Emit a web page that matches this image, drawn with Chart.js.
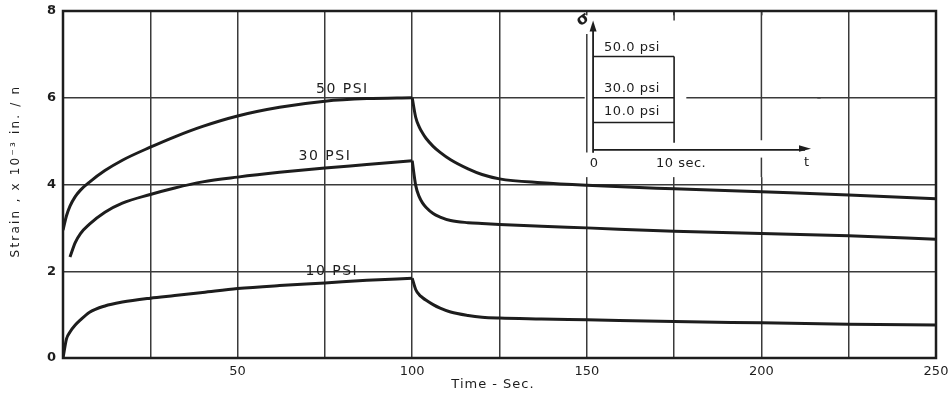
<!DOCTYPE html>
<html>
<head>
<meta charset="utf-8">
<script src="https://cdn.jsdelivr.net/npm/chart.js@4.4.1/dist/chart.umd.min.js"></script>
<style>
  html, body { margin: 0; padding: 0; background: #fff; }
  #wrap { width: 949px; height: 399px; position: relative; }
</style>
</head>
<body>
<div id="wrap"><canvas id="strainChart"></canvas></div>
<script>
// creep curves: loading up to 100 s, recovery afterwards
const loadTime = [0, 1, 2, 3.5, 5, 7.5, 12, 17, 25, 32, 40, 50, 62, 75, 87, 100];
const psi50Load = [2.95, 3.28, 3.5, 3.72, 3.87, 4.05, 4.32, 4.56, 4.86, 5.1, 5.34, 5.58, 5.78, 5.92, 5.98, 6.0];
const psi30Load = [null, null, 2.33, 2.66, 2.87, 3.08, 3.36, 3.57, 3.77, 3.92, 4.06, 4.17, 4.28, 4.38, 4.46, 4.55];
const psi10Load = [0, 0.44, 0.6, 0.76, 0.88, 1.05, 1.2, 1.29, 1.38, 1.44, 1.51, 1.6, 1.67, 1.73, 1.79, 1.84];

const unloadTime = [100, 101, 102, 103, 104, 106, 108, 111, 116, 120, 125, 137, 150, 175, 200, 225, 250];
const psi50Unload = [6.0, 5.55, 5.33, 5.18, 5.06, 4.88, 4.74, 4.57, 4.36, 4.23, 4.13, 4.04, 3.98, 3.9, 3.83, 3.76, 3.67];
const psi30Unload = [4.55, 3.98, 3.72, 3.57, 3.47, 3.33, 3.25, 3.17, 3.12, 3.1, 3.08, 3.04, 3.0, 2.92, 2.87, 2.82, 2.74];
const psi10Unload = [1.84, 1.58, 1.46, 1.39, 1.33, 1.23, 1.15, 1.06, 0.98, 0.94, 0.92, 0.9, 0.88, 0.84, 0.81, 0.78, 0.76];

const seriesNames = ['50 PSI', '30 PSI', '10 PSI'];
const xTickLabels = [50, 100, 150, 200, 250];
const yTickLabels = [0, 2, 4, 6, 8];

// inset: stress pulse levels
const pulseLabels = ['50.0 psi', '30.0 psi', '10.0 psi'];

const INK = '#1d1d1d';
const GRID = '#3a3a3a';
const FONT = '"DejaVu Sans", sans-serif';

function toPoints(xs, ys) {
    const pts = [];
    xs.forEach((x, i) => {
        if (ys[i] !== null) pts.push({ x: x, y: ys[i] });
    });
    return pts;
}

function curve(xs, ys, width) {
    return {
        data: toPoints(xs, ys),
        borderColor: INK,
        borderWidth: width,
        pointRadius: 0,
        fill: false,
        cubicInterpolationMode: 'monotone'
    };
}

// text labels for the curves, placed a little above each curve
const curveLabelPlugin = {
    id: 'curveLabels',
    afterDatasetsDraw(chart) {
        const { ctx, scales: { x, y } } = chart;
        const anchors = [
            { name: seriesNames[0], at: 80, value: psi50Load[13] },
            { name: seriesNames[1], at: 75, value: psi30Load[13] },
            { name: seriesNames[2], at: 77, value: psi10Load[13] }
        ];
        ctx.save();
        ctx.fillStyle = INK;
        ctx.font = '14px ' + FONT;
        ctx.letterSpacing = '1.5px';
        ctx.textAlign = 'center';
        ctx.textBaseline = 'middle';
        anchors.forEach(a => {
            ctx.fillText(a.name, x.getPixelForValue(a.at), y.getPixelForValue(a.value) - 12);
        });
        ctx.restore();
    }
};

// axis titles drawn by hand so the letters can be spaced out
const axisTitlePlugin = {
    id: 'axisTitles',
    afterDraw(chart) {
        const { ctx, chartArea: a } = chart;
        ctx.save();
        ctx.fillStyle = INK;
        ctx.textAlign = 'center';
        ctx.textBaseline = 'middle';
        ctx.font = '13px ' + FONT;
        ctx.letterSpacing = '1px';
        ctx.fillText('Time - Sec.', 493, a.bottom + 27);
        ctx.translate(16, 171);
        ctx.rotate(-Math.PI / 2);
        ctx.font = '12px ' + FONT;
        ctx.letterSpacing = '2.2px';
        ctx.fillText('Strain , x 10⁻³ in. / n', 0, 0);
        ctx.restore();
    }
};

// small stress-time sketch in the upper right of the plot
const insetPlugin = {
    id: 'pulseInset',
    beforeDatasetsDraw(chart) {
        const { ctx, scales: { x, y } } = chart;
        const px = v => x.getPixelForValue(v);
        const py = v => y.getPixelForValue(v);

        const axisX = px(151.8);
        const baseY = py(4.8);
        const endX = px(175);
        const levels = [6.95, 6.0, 5.43];

        ctx.save();
        // clear the grid behind the sketch
        ctx.fillStyle = '#fff';
        ctx.fillRect(px(149.4), py(7.9), px(216) - px(149.4), py(4.17) - py(7.9));

        // grid pieces that still show through
        ctx.strokeStyle = GRID;
        ctx.lineWidth = 1.5;
        const seg = (x1, y1, x2, y2) => {
            ctx.beginPath();
            ctx.moveTo(x1, y1);
            ctx.lineTo(x2, y2);
            ctx.stroke();
        };
        seg(px(150), py(7.47), px(150), py(4.74));
        seg(px(175), py(8), px(175), py(7.78));
        seg(px(200), py(8), px(200), py(5.02));
        seg(px(200), py(4.62), px(200), py(4.17));
        seg(px(178.5), py(6), px(217), py(6));

        // axes of the sketch
        ctx.strokeStyle = INK;
        ctx.lineWidth = 1.8;
        seg(axisX, baseY + 3, axisX, py(7.62));
        seg(axisX, baseY, px(212.5), baseY);
        ctx.fillStyle = INK;
        ctx.beginPath();
        ctx.moveTo(axisX, py(7.78));
        ctx.lineTo(axisX - 3.5, py(7.78) + 11);
        ctx.lineTo(axisX + 3.5, py(7.78) + 11);
        ctx.closePath();
        ctx.fill();
        ctx.beginPath();
        ctx.moveTo(px(214.2), baseY - 1);
        ctx.lineTo(px(214.2) - 12, baseY - 4.5);
        ctx.lineTo(px(214.2) - 12, baseY + 2);
        ctx.closePath();
        ctx.fill();

        // the three load levels, all released at 10 s
        ctx.lineWidth = 1.6;
        levels.forEach(lv => seg(axisX, py(lv), endX, py(lv)));
        seg(endX, py(levels[0]), endX, baseY - 7);

        ctx.font = '13px ' + FONT;
        ctx.letterSpacing = '0.5px';
        ctx.textBaseline = 'middle';
        ctx.textAlign = 'left';
        const textYs = [7.15, 6.22, 5.67];
        pulseLabels.forEach((t, i) => ctx.fillText(t, axisX + 11, py(textYs[i])));

        ctx.textAlign = 'center';
        ctx.fillText('0', axisX + 1, baseY + 14);
        ctx.fillText('10 sec.', endX + 7, baseY + 14);
        ctx.fillText('t', px(213), baseY + 13);

        // sigma symbol at the top of the vertical axis
        ctx.save();
        ctx.translate(axisX - 10, py(7.8));
        ctx.rotate(-0.6);
        ctx.font = 'bold 16px ' + FONT;
        ctx.letterSpacing = '0px';
        ctx.fillText('σ', 0, 0);
        ctx.restore();
        ctx.restore();
    },
    afterDraw(chart) {
        // heavier frame around the plot
        const { ctx, chartArea: a } = chart;
        ctx.save();
        ctx.strokeStyle = INK;
        ctx.lineWidth = 2.5;
        ctx.strokeRect(a.left, a.top, a.right - a.left, a.bottom - a.top);
        ctx.restore();
    }
};

document.addEventListener('DOMContentLoaded', () => {
    const ctx = document.getElementById('strainChart').getContext('2d');
    new Chart(ctx, {
        type: 'line',
        data: {
            datasets: [
                curve(loadTime, psi50Load, 3),
                curve(unloadTime, psi50Unload, 3),
                curve(loadTime, psi30Load, 3),
                curve(unloadTime, psi30Unload, 3),
                curve(loadTime, psi10Load, 3),
                curve(unloadTime, psi10Unload, 3)
            ]
        },
        options: {
            responsive: true,
            maintainAspectRatio: false,
            animation: false,
            layout: { padding: { left: 0, right: 13, top: 11, bottom: 0 } },
            plugins: {
                legend: { display: false },
                tooltip: { enabled: false }
            },
            scales: {
                x: {
                    type: 'linear',
                    min: 0,
                    max: 250,
                    afterFit: scale => {
                        scale.height = 41;
                        scale.paddingLeft = 0;
                        scale.paddingRight = 0;
                    },
                    grid: { color: GRID, lineWidth: 1.5, drawTicks: false },
                    border: { display: false },
                    ticks: {
                        stepSize: 25,
                        padding: 6,
                        color: INK,
                        font: { family: FONT, size: 13 },
                        maxRotation: 0,
                        autoSkip: false,
                        callback: v => xTickLabels.includes(v) ? String(v) : ''
                    }
                },
                y: {
                    min: 0,
                    max: 8,
                    afterFit: scale => {
                        scale.width = 63;
                        scale.paddingTop = 0;
                        scale.paddingBottom = 0;
                    },
                    grid: { color: GRID, lineWidth: 1.5, drawTicks: false },
                    border: { display: false },
                    ticks: {
                        stepSize: 2,
                        padding: 7,
                        color: INK,
                        font: { family: FONT, size: 13, weight: 'bold' },
                        callback: v => yTickLabels.includes(v) ? String(v) : ''
                    }
                }
            }
        },
        plugins: [curveLabelPlugin, insetPlugin, axisTitlePlugin]
    });
});
</script>
</body>
</html>
